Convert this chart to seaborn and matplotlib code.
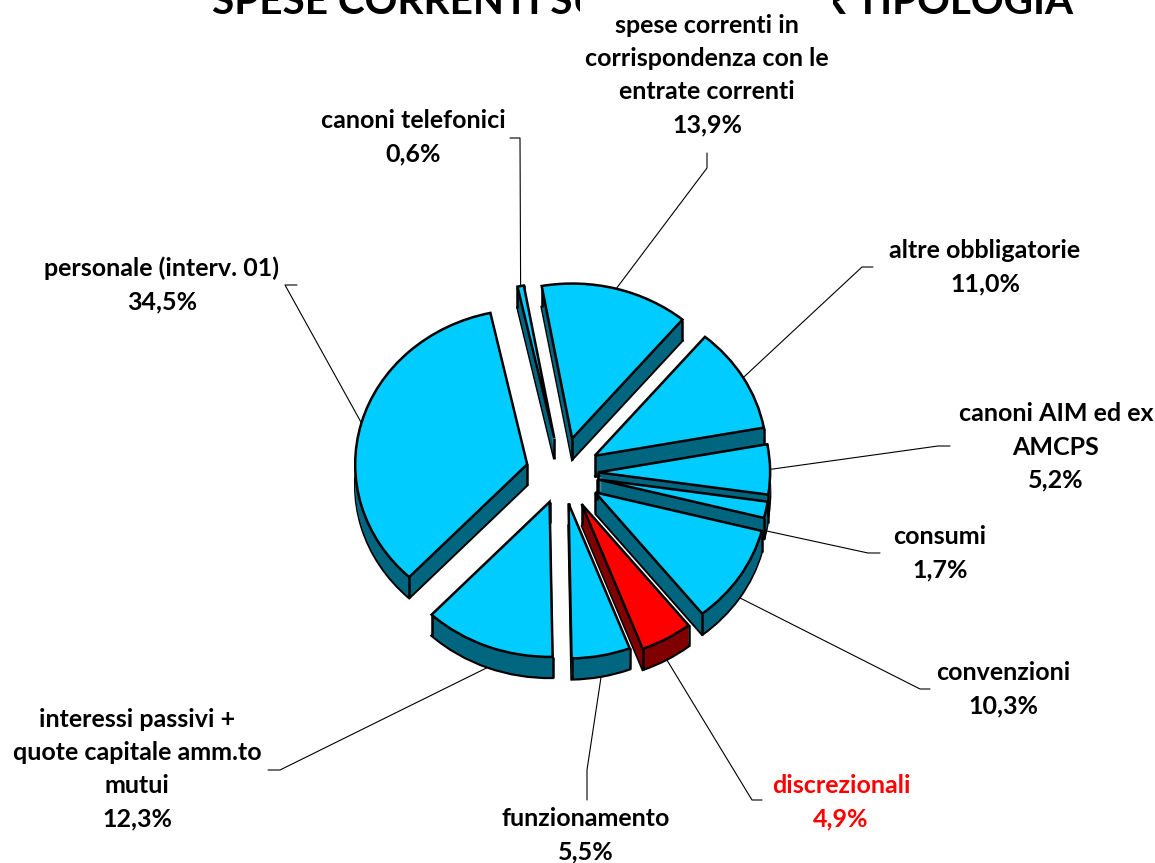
import numpy as np
import matplotlib
matplotlib.use('Agg')
import matplotlib.pyplot as plt
from matplotlib.patches import Rectangle
import seaborn as sns

# Data, clockwise from the top of the pie
categories = ['spese correnti in\ncorrispondenza con le\nentrate correnti', 'altre obbligatorie',
              'canoni AIM ed ex\nAMCPS', 'consumi', 'convenzioni', 'discrezionali', 'funzionamento',
              'interessi passivi +\nquote capitale amm.to\nmutui', 'personale (interv. 01)', 'canoni telefonici']
shares = [13.9, 11.0, 5.2, 1.7, 10.3, 4.9, 5.5, 12.3, 34.5, 0.6]
share_labels = ['13,9%', '11,0%', '5,2%', '1,7%', '10,3%', '4,9%', '5,5%', '12,3%', '34,5%', '0,6%']
title = 'SPESE CORRENTI SUDDIVISE PER TIPOLOGIA'

# Layout, in pixels of the final picture
label_pos = [(707, 75), (985, 267), (1056, 447), (940, 553), (1003, 689),
             (841, 802), (586, 835), (137, 769), (162, 285), (413, 137)]
leader_elbows = [[(707, 153), (707, 168)], [(873, 267), (862, 267)], [(950, 446), (938, 446)],
                 [(880, 553), (868, 553)], [(930, 689), (920, 689)], [(762, 800), (752, 800)],
                 [(587, 800), (587, 770)], [(268, 770), (280, 770)], [(297, 285), (285, 285)],
                 [(510, 138), (520, 138)]]

CX, CY = 562, 473    # pie centre
RX, RY = 172, 155    # pixels per data unit, the pie is a flattened circle
DEPTH = 21           # pixels of wall below the top face
EXPLODE = [0.23, 0.22, 0.21, 0.21, 0.23, 0.23, 0.20, 0.20, 0.21, 0.23]
START = 100.2

CYAN, CYAN_DARK = '#00CCFF', '#006680'
RED, RED_DARK = '#FF0000', '#800000'
top_colors = [RED if c == 'discrezionali' else CYAN for c in categories]
wall_colors = [RED_DARK if c == 'discrezionali' else CYAN_DARK for c in categories]


def to_data(px, py):
    return (px - CX) / RX, (CY - py) / RY


sns.set_theme(style='white')
plt.rcParams['font.family'] = ['Lato', 'DejaVu Sans']

fig = plt.figure(figsize=(11.55, 8.63), dpi=100)
ax = fig.add_axes([0, 0, 1, 1])


def draw_layer(drop, colors, **edge):
    wedges, _ = ax.pie(shares, explode=EXPLODE, startangle=START, counterclock=False, radius=1,
                       colors=colors, center=(0, -drop / RY), wedgeprops=edge, frame=False)
    return wedges


# walls: the bottom face with its outline, then layers up to the top
draw_layer(DEPTH, wall_colors, edgecolor='black', linewidth=1.8)
for drop in np.arange(DEPTH - 1, 0, -1):
    draw_layer(drop, wall_colors, linewidth=0)

# top faces last, the corner lines go underneath them
top = draw_layer(0, top_colors, edgecolor='black', linewidth=1.8, zorder=1.5)

for w in top:
    x0, y0 = w.center
    corners = [(x0, y0)] + [(x0 + np.cos(np.radians(a)), y0 + np.sin(np.radians(a))) for a in (w.theta1, w.theta2)]
    for x, y in corners:
        ax.plot([x, x], [y, y - DEPTH / RY], color='black', lw=1.8, zorder=1.2, solid_capstyle='butt')

# leader lines, from the outer arc of each slice to its label
for w, elbow in zip(top, leader_elbows):
    mid = np.radians((w.theta1 + w.theta2) / 2)
    x = w.center[0] + np.cos(mid)
    y = w.center[1] + np.sin(mid)
    if np.sin(mid) < 0:
        y -= DEPTH / RY
    pts = [to_data(*p) for p in elbow] + [(x, y)]
    ax.plot([p[0] for p in pts], [p[1] for p in pts], color='black', lw=0.8, zorder=1.1)

ax.set_aspect('auto')
ax.set_xlim(to_data(0, 0)[0], to_data(1155, 0)[0])
ax.set_ylim(to_data(0, 863)[1], to_data(0, 0)[1])
ax.axis('off')

tx, ty = to_data(643, 14)
ax.text(tx, ty, title, ha='center', va='baseline', fontsize=29.2, fontweight='bold', color='black', zorder=3)

# the box of the top label hides the middle of the title
bx, by = to_data(580, 40)
ax.add_patch(Rectangle((bx, by), 253 / RX, 40 / RY, facecolor='white', edgecolor='none', zorder=3.5))

for cat, share, (px, py), col in zip(categories, share_labels, label_pos, top_colors):
    lx, ly = to_data(px, py)
    ax.text(lx, ly, cat + '\n' + share, ha='center', va='center', fontsize=18, fontweight='bold',
            linespacing=1.53, color=RED if col == RED else 'black', zorder=4)

fig.savefig('out.png', dpi=100)
